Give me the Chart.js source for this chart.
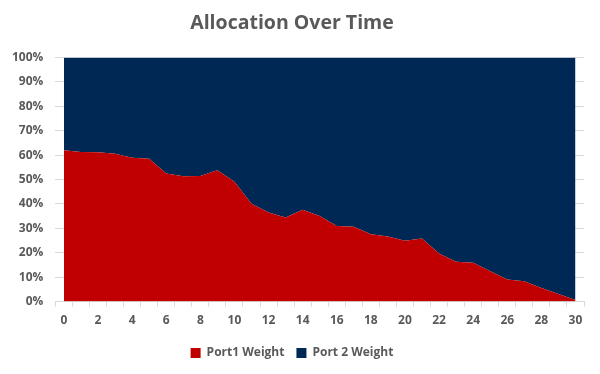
<!DOCTYPE html>
<html>
<head>
<meta charset="utf-8">
<script src="https://cdn.jsdelivr.net/npm/chart.js@4/dist/chart.umd.min.js"></script>
<style>
  html, body { margin: 0; padding: 0; background: #ffffff; }
  #wrap { width: 600px; height: 374px; }
</style>
</head>
<body>
<div id="wrap"><canvas id="c" width="600" height="374"></canvas></div>
<script>
const categories = ['0','1','2','3','4','5','6','7','8','9','10','11','12','13','14','15','16','17','18','19','20','21','22','23','24','25','26','27','28','29','30'];
const port1Weight = [62.0, 61.3, 61.2, 60.5, 58.9, 58.5, 52.5, 51.3, 51.4, 53.8, 49.1, 40.1, 36.5, 34.4, 37.6, 35.1, 31.0, 30.7, 27.6, 26.7, 24.9, 25.8, 19.7, 16.3, 15.9, 12.4, 9.1, 8.3, 5.6, 3.1, 0.7];
const port2Weight = [38.0, 38.7, 38.8, 39.5, 41.1, 41.5, 47.5, 48.7, 48.6, 46.2, 50.9, 59.9, 63.5, 65.6, 62.4, 64.9, 69.0, 69.3, 72.4, 73.3, 75.1, 74.2, 80.3, 83.7, 84.1, 87.6, 90.9, 91.7, 94.4, 96.9, 99.3];
const yTicks = [0, 10, 20, 30, 40, 50, 60, 70, 80, 90, 100];

const FONT = "'Open Sans', 'DejaVu Sans', sans-serif";
const GREY = '#595959';

new Chart(document.getElementById('c'), {
  type: 'line',
  data: {
    labels: categories,
    datasets: [
      {
        label: 'Port1 Weight',
        data: port1Weight,
        backgroundColor: '#C00000',
        borderColor: '#C00000',
        borderWidth: 0,
        pointRadius: 0,
        fill: 'origin',
        tension: 0
      },
      {
        label: 'Port 2 Weight',
        data: port2Weight,
        backgroundColor: '#002855',
        borderColor: '#002855',
        borderWidth: 0,
        pointRadius: 0,
        fill: '-1',
        tension: 0
      }
    ]
  },
  options: {
    responsive: false,
    animation: false,
    layout: { padding: { left: 0, right: 16, top: 4, bottom: 5 } },
    plugins: {
      title: {
        display: true,
        text: 'Allocation Over Time',
        color: GREY,
        font: { family: FONT, size: 19.5, weight: 'bold' },
        padding: { top: 8, bottom: 22 }
      },
      legend: {
        position: 'bottom',
        labels: {
          color: GREY,
          font: { family: FONT, size: 12, weight: 'bold' },
          boxWidth: 10,
          boxHeight: 10,
          padding: 12
        }
      },
      tooltip: { enabled: false }
    },
    scales: {
      x: {
        type: 'category',
        offset: true,
        grid: {
          offset: true,
          drawOnChartArea: false,
          drawTicks: true,
          tickLength: 5,
          color: '#d9d9d9'
        },
        border: { display: true, color: '#d9d9d9' },
        ticks: {
          autoSkip: false,
          maxRotation: 0,
          color: GREY,
          font: { family: FONT, size: 12, weight: 'bold' },
          padding: 7,
          callback: function(v, i) { return (i % 2 === 0) ? categories[i] : ''; }
        }
      },
      y: {
        stacked: true,
        min: 0,
        max: 100,
        afterBuildTicks: function(axis) { axis.ticks = yTicks.map(v => ({ value: v })); },
        grid: { color: '#d9d9d9', drawTicks: false },
        border: { display: false },
        ticks: {
          color: GREY,
          font: { family: FONT, size: 12, weight: 'bold' },
          padding: 12,
          callback: function(v) { return v + '%'; }
        }
      }
    }
  }
});
</script>
</body>
</html>
